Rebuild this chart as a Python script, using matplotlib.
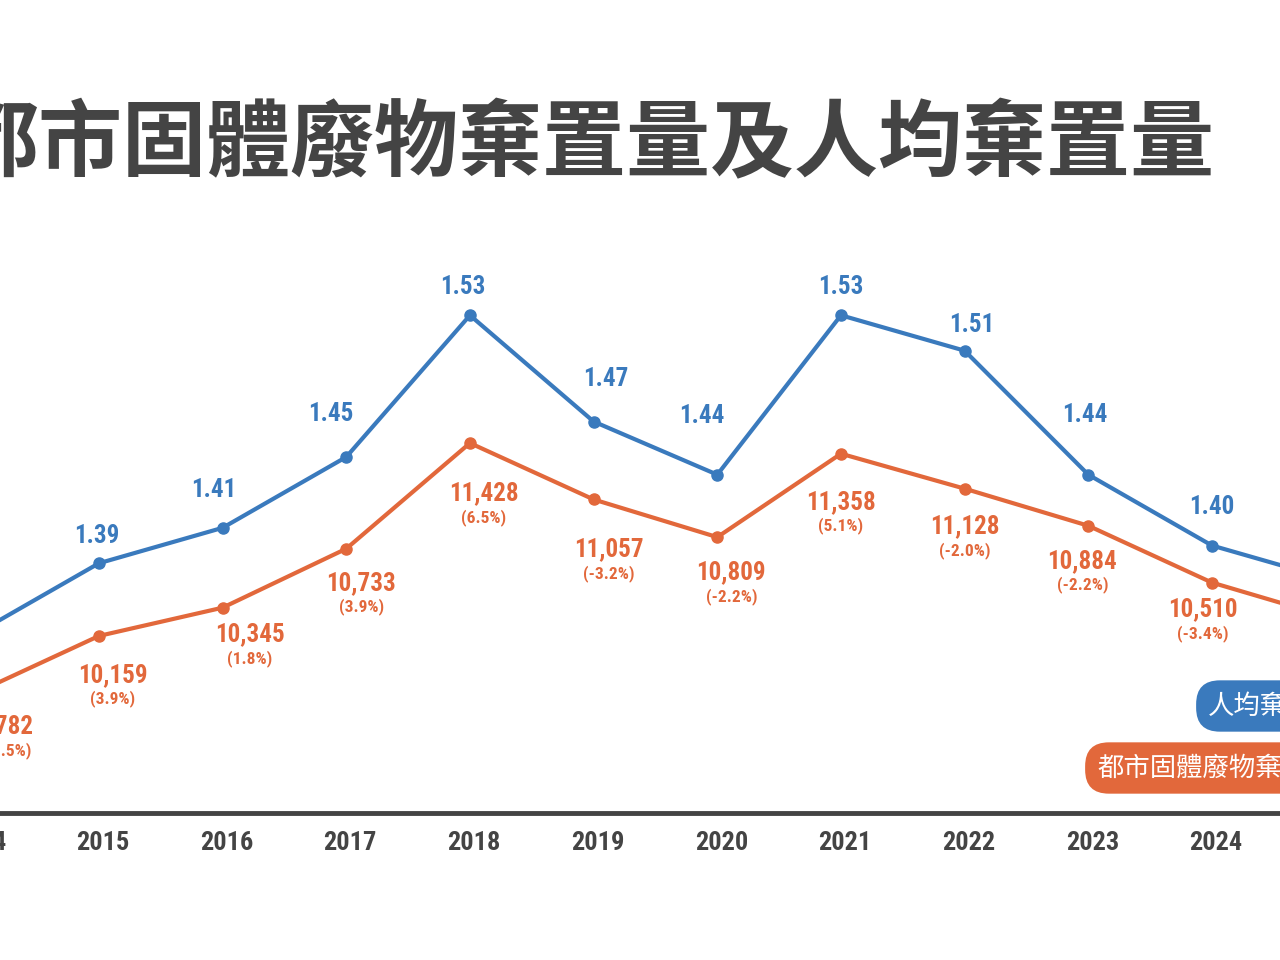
import matplotlib.pyplot as plt
from matplotlib.lines import Line2D
import matplotlib.transforms as mtransforms

plt.rcParams['font.family'] = ['Noto Sans CJK TC', 'DejaVu Sans']

years = [2014, 2015, 2016, 2017, 2018, 2019, 2020, 2021, 2022, 2023, 2024, 2025]
per_capita = [1.35, 1.39, 1.41, 1.45, 1.53, 1.47, 1.44, 1.53, 1.51, 1.44, 1.40, 1.38]
disposal = [9782, 10159, 10345, 10733, 11428, 11057, 10809, 11358, 11128, 10884, 10510, 10270]
change = ['(-0.5%)', '(3.9%)', '(1.8%)', '(3.9%)', '(6.5%)', '(-3.2%)', '(-2.2%)',
          '(5.1%)', '(-2.0%)', '(-2.2%)', '(-3.4%)', '(-2.3%)']

title = '都市固體廢物棄置量及人均棄置量'
legend_blue = '人均棄置量（公斤/人/日）'
legend_orange = '都市固體廢物棄置量（公噸/日）'

# label offsets in pixels (label placement as in the original graphic)
blue_off = [(0, 30), (-2, 27), (-9, 38), (-15, 43), (-7, 28), (12, 43), (-15, 59),
            (0, 28), (7, 26), (-3, 60), (0, 39), (0, 30)]
orange_off = [(30, 33), (14, 39), (27, 27), (15, 34), (14, 50), (15, 50), (14, 35),
              (0, 48), (0, 38), (-6, 35), (-9, 27), (0, 30)]

blue = '#3a7abd'
orange = '#e2683b'
dark = '#444444'
num_font = dict(family=['Roboto Condensed', 'Roboto', 'DejaVu Sans'], fontweight='bold')

fig = plt.figure(figsize=(12.8, 9.6), dpi=100)
ax = fig.add_axes([0, 0, 1, 1])
ax2 = ax.twinx()
for a in (ax, ax2):
    a.set_axis_off()

ax.set_xlim(2014.20, 2024.55)
ax.set_ylim(8027, 14343)
ax2.set_ylim(1.166, 1.708)

ax.plot(years, disposal, color=orange, lw=3, marker='o', ms=8, zorder=3)
ax2.plot(years, per_capita, color=blue, lw=3, marker='o', ms=8, zorder=3)

for x, v, (dx, dy) in zip(years, per_capita, blue_off):
    ax2.annotate(f'{v:.2f}', (x, v), xytext=(dx, dy), textcoords='offset pixels',
                 ha='center', va='center', color=blue, fontsize=18,
                 annotation_clip=False, **num_font)

for x, v, c, (dx, dy) in zip(years, disposal, change, orange_off):
    ax.annotate(f'{v:,}', (x, v), xytext=(dx, -dy), textcoords='offset pixels',
                ha='center', va='center', color=orange, fontsize=18,
                annotation_clip=False, **num_font)
    ax.annotate(c, (x, v), xytext=(dx, -dy - 24), textcoords='offset pixels',
                ha='center', va='center', color=orange, fontsize=12.5,
                annotation_clip=False, **num_font)

# baseline and years
fig.add_artist(Line2D([0, 1], [1 - 813 / 960, 1 - 813 / 960], color=dark, lw=3.5))
trans = mtransforms.blended_transform_factory(ax.transData, ax.transAxes)
for x in years:
    ax.annotate(str(x), (x, 1 - 843 / 960), xycoords=trans, xytext=(4, 0),
                textcoords='offset pixels', ha='center', va='center',
                color=dark, fontsize=19, annotation_clip=False, **num_font)

# title
fig.text(-45 / 1280, 1 - 146 / 960, title, ha='left', va='center', color=dark,
         fontsize=60.5, fontweight='black')

# legend pills
fig.text(1208 / 1280, 1 - 706 / 960, legend_blue, ha='left', va='center', color='white',
         fontsize=19, bbox=dict(boxstyle='round,pad=0.45,rounding_size=0.9', fc=blue, ec='none'))
fig.text(1097 / 1280, 1 - 768 / 960, legend_orange, ha='left', va='center', color='white',
         fontsize=19, bbox=dict(boxstyle='round,pad=0.45,rounding_size=0.9', fc=orange, ec='none'))

fig.savefig('out.png', dpi=100, facecolor='white')
